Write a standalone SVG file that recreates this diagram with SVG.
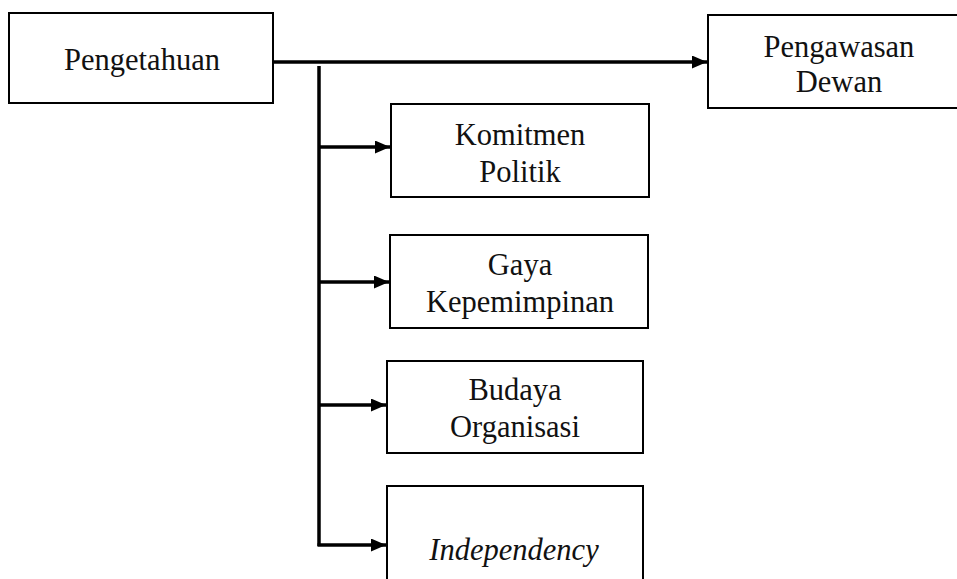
<svg xmlns="http://www.w3.org/2000/svg" width="957" height="579" viewBox="0 0 957 579">
<style>
.box{fill:#fff;stroke:#000;stroke-width:2}
.t{font-family:"Liberation Serif","Times New Roman",serif;font-size:30.5px;fill:#111;text-anchor:middle}
.i{font-style:italic}
.c{fill:none;stroke:#000;stroke-width:3.5}
</style>
<defs>
<marker id="ah" viewBox="0 0 15 13" refX="15" refY="6.5" markerWidth="15" markerHeight="13" markerUnits="userSpaceOnUse" orient="auto">
<path d="M0,0 L15,6.5 L0,13 Z" fill="#000"/>
</marker>
</defs>
<g id="connectors">
<line class="c" x1="273" y1="62" x2="707" y2="62" marker-end="url(#ah)"/>
<line class="c" x1="319" y1="66" x2="319" y2="546"/>
<line class="c" x1="319" y1="147" x2="390" y2="147" marker-end="url(#ah)"/>
<line class="c" x1="319" y1="282" x2="389" y2="282" marker-end="url(#ah)"/>
<line class="c" x1="319" y1="405" x2="386" y2="405" marker-end="url(#ah)"/>
<line class="c" x1="317.5" y1="545" x2="386" y2="545" marker-end="url(#ah)"/>
</g>
<g id="pengetahuan">
<rect class="box" x="9" y="13" width="264" height="90"/>
<text class="t" x="142" y="70">Pengetahuan</text>
</g>
<g id="pengawasan">
<rect class="box" x="708" y="15" width="260" height="93"/>
<text class="t" x="839" y="57">Pengawasan</text>
<text class="t" x="839" y="92">Dewan</text>
</g>
<g id="komitmen">
<rect class="box" x="391" y="104" width="258" height="93"/>
<text class="t" x="520" y="145">Komitmen</text>
<text class="t" x="520" y="182">Politik</text>
</g>
<g id="gaya">
<rect class="box" x="390" y="235" width="258" height="93"/>
<text class="t" x="520" y="275">Gaya</text>
<text class="t" x="520" y="312">Kepemimpinan</text>
</g>
<g id="budaya">
<rect class="box" x="387" y="361" width="256" height="92"/>
<text class="t" x="515" y="400">Budaya</text>
<text class="t" x="515" y="437">Organisasi</text>
</g>
<g id="independency">
<rect class="box" x="387" y="486" width="256" height="100"/>
<text class="t i" x="514" y="560">Independency</text>
</g>
</svg>
